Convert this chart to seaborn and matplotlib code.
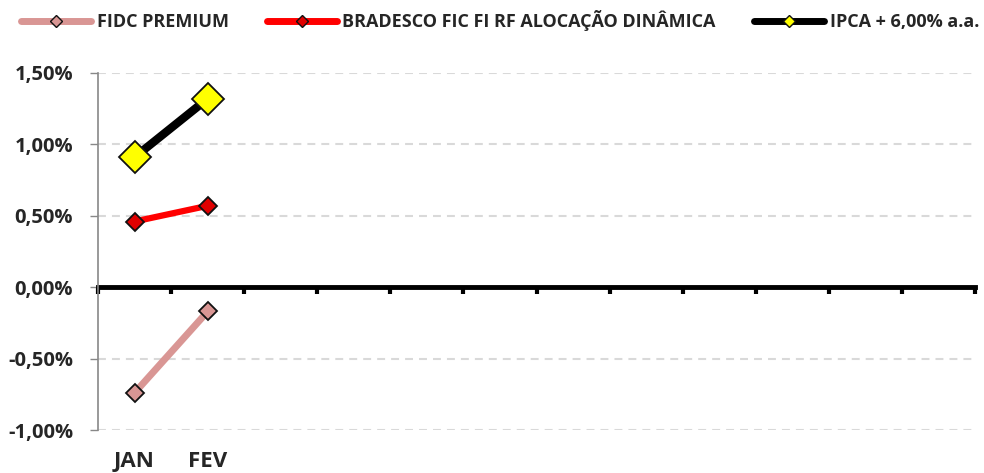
import matplotlib
matplotlib.use("Agg")
import matplotlib.pyplot as plt
import matplotlib.ticker as mticker
from matplotlib.lines import Line2D
import seaborn as sns
import pandas as pd

months = ["JAN", "FEV", "MAR", "ABR", "MAI", "JUN", "JUL", "AGO", "SET", "OUT", "NOV", "DEZ"]
month_labels = ["JAN", "FEV", "", "", "", "", "", "", "", "", "", ""]
series_names = ["FIDC PREMIUM", "BRADESCO FIC FI RF ALOCAÇÃO DINÂMICA", "IPCA + 6,00% a.a."]
fidc = [-0.74, -0.17]
bradesco = [0.46, 0.57]
ipca = [0.91, 1.32]

rows = []
for name, vals in zip(series_names, [fidc, bradesco, ipca]):
    for i, v in enumerate(vals):
        rows.append({"serie": name, "x": i, "mes": months[i], "valor": v})
df = pd.DataFrame(rows)

sns.set_theme(style="white")
plt.rcParams["font.family"] = ["Open Sans", "DejaVu Sans"]
plt.rcParams["font.weight"] = "bold"

fig = plt.figure(figsize=(9.84, 4.73), dpi=100)
ax = fig.add_axes([0.0996, 0.0909, 0.8914, 0.7548])

colors = ["#D99694", "#FF0000", "#000000"]
mfc = ["#D99694", "#E00000", "#FFFF00"]
msizes = [9, 9, 16]
lws = [5.0, 4.5, 6.0]

for k, name in enumerate(series_names):
    sub = df[df["serie"] == name]
    sns.lineplot(data=sub, x="x", y="valor", ax=ax, color=colors[k], lw=lws[k],
                 marker="D", markersize=msizes[k], markerfacecolor=mfc[k],
                 markeredgecolor="#111111", markeredgewidth=1.3, legend=False,
                 solid_capstyle="round", zorder=3 + k)

ax.set_xlim(-0.5, 11.5)
ax.set_ylim(-1.0, 1.5)
ax.set_xlabel("")
ax.set_ylabel("")

# y axis
ax.yaxis.set_major_locator(mticker.MultipleLocator(0.5))
ax.yaxis.set_major_formatter(mticker.FuncFormatter(lambda v, p: f"{v:.2f}%".replace(".", ",")))
ax.tick_params(axis="y", direction="out", length=6, width=1, color="#888888",
               labelsize=14.5, pad=12, left=True)
for lab in ax.get_yticklabels():
    lab.set_fontweight("bold")
for yv in [1.5, 1.0, 0.5, -0.5, -1.0]:
    ax.axhline(yv, color="#D9D9D9", lw=1.5, ls=(0, (3.8, 2.9)), zorder=1)

for s in ["top", "right"]:
    ax.spines[s].set_visible(False)
ax.spines["left"].set_color("#888888")
ax.spines["left"].set_linewidth(1.2)
ax.spines["bottom"].set_position(("data", 0))
ax.spines["bottom"].set_linewidth(3.5)
ax.spines["bottom"].set_color("black")
ax.spines["bottom"].set_zorder(2)

# category boundary ticks on zero line
ax.set_xticks([i - 0.5 for i in range(len(months) + 1)])
ax.set_xticklabels([])
ax.tick_params(axis="x", direction="out", length=5, width=3, color="black", bottom=True)

# month labels at bottom
sec = ax.secondary_xaxis(0.0)
sec.set_xticks(range(len(months)))
sec.set_xticklabels(month_labels, fontsize=16, fontweight="bold")
sec.tick_params(length=0, pad=15)
sec.spines["bottom"].set_visible(False)

handles = [Line2D([0], [0], color=colors[k], lw=5, marker="D", markersize=6,
                  markerfacecolor=mfc[k], markeredgecolor="#111111", markeredgewidth=1)
           for k in range(3)]
fig.legend(handles, series_names, loc="center", bbox_to_anchor=(0.508, 0.957), ncol=3,
           frameon=False, prop={"size": 13, "weight": "bold"}, handlelength=3.9,
           columnspacing=2.1, handletextpad=0.3, borderpad=0.2)

fig.savefig("out.png", dpi=100)
